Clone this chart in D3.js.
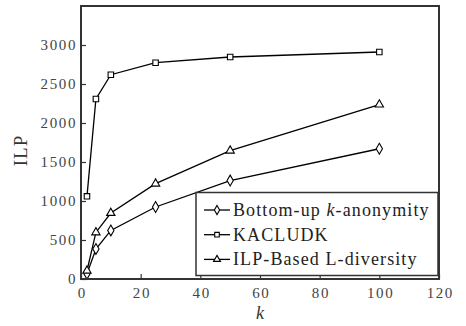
<!DOCTYPE html>
<html><head><meta charset="utf-8">
<script src="https://cdn.jsdelivr.net/npm/d3@7"></script>
<style>body{margin:0;background:#fff}svg{display:block}</style>
</head><body>
<script>
const kValues = [2, 5, 10, 25, 50, 100];
const bottomUp = [68, 385, 623, 923, 1262, 1670];
const kacludk = [1060, 2308, 2619, 2773, 2846, 2910];
const ilpBased = [106, 597, 846, 1222, 1645, 2236];
const seriesNames = ["Bottom-up k-anonymity", "KACLUDK", "ILP-Based L-diversity"];
const xTicks = [0, 20, 40, 60, 80, 100, 120];
const yTicks = [0, 500, 1000, 1500, 2000, 2500, 3000];

const W = 466, H = 326;
const m = {l: 81, r: 27, t: 6, b: 47};
const svg = d3.select("body").append("svg").attr("width", W).attr("height", H);
const x = d3.scaleLinear().domain([0, 120]).range([m.l, W - m.r]);
const y = d3.scaleLinear().domain([0, 3500]).range([H - m.b, m.t]);
const font = "'Liberation Serif','DejaVu Serif',serif";
const axCol = "#333";

const series = [
  {name: seriesNames[0], vals: bottomUp, sym: d3.symbolDiamond, size: 34},
  {name: seriesNames[1], vals: kacludk, sym: d3.symbolSquare, size: 30},
  {name: seriesNames[2], vals: ilpBased, sym: d3.symbolTriangle, size: 30}
];
const line = d3.line().x(d => x(d[0])).y(d => y(d[1]));
series.forEach(s => {
  const pts = kValues.map((k, i) => [k, s.vals[i]]);
  svg.append("path").attr("d", line(pts)).attr("fill", "none")
    .attr("stroke", "#000").attr("stroke-width", 1.3);
  svg.selectAll(null).data(pts).enter().append("path")
    .attr("d", d3.symbol().type(s.sym).size(s.size))
    .attr("transform", d => `translate(${x(d[0])},${y(d[1])})`)
    .attr("fill", "#fff").attr("stroke", "#000").attr("stroke-width", 1.1);
});

const xAxis = svg.append("g").attr("transform", `translate(0,${H - m.b})`)
  .call(d3.axisBottom(x).tickValues(xTicks).tickFormat(d3.format("d")).tickSize(-5).tickPadding(8));
const yAxis = svg.append("g").attr("transform", `translate(${m.l},0)`)
  .call(d3.axisLeft(y).tickValues(yTicks).tickFormat(d3.format("d")).tickSize(-5).tickPadding(4));
[xAxis, yAxis].forEach(g => {
  g.select(".domain").remove();
  g.selectAll("line").attr("stroke", axCol).attr("stroke-width", 1.2);
  g.selectAll("text").attr("font-family", font).attr("font-size", 15)
    .attr("fill", "#444").attr("letter-spacing", 1.6);
});
xAxis.selectAll("text").attr("dy", "0.71em").attr("dx", 0.8);

svg.append("rect").attr("x", m.l).attr("y", m.t)
  .attr("width", W - m.r - m.l).attr("height", H - m.b - m.t)
  .attr("fill", "none").attr("stroke", axCol).attr("stroke-width", 2);

svg.append("text").attr("transform", `translate(27,${(m.t + H - m.b) / 2 + 8}) rotate(-90)`)
  .attr("text-anchor", "middle").attr("font-family", font).attr("font-size", 19)
  .attr("fill", "#333").attr("letter-spacing", 1).text("ILP");
svg.append("text").attr("x", x(60)).attr("y", 319).attr("text-anchor", "middle")
  .attr("font-family", font).attr("font-size", 18).attr("font-style", "italic")
  .attr("fill", "#333").text("k");

const lg = svg.append("g");
lg.append("rect").attr("x", 196).attr("y", 192.5).attr("width", 242).attr("height", 83)
  .attr("fill", "#fff").attr("stroke", axCol).attr("stroke-width", 1.5);
series.forEach((s, i) => {
  const yy = 210 + i * 24.7;
  lg.append("line").attr("x1", 204).attr("x2", 230).attr("y1", yy).attr("y2", yy)
    .attr("stroke", "#000").attr("stroke-width", 1.3);
  lg.append("path").attr("d", d3.symbol().type(s.sym).size(s.size * 0.7))
    .attr("transform", `translate(217,${yy})`)
    .attr("fill", "#fff").attr("stroke", "#000").attr("stroke-width", 1.1);
  const t = lg.append("text").attr("x", 233).attr("y", yy + 6)
    .attr("font-family", font).attr("font-size", 18).attr("fill", "#222")
    .attr("letter-spacing", 1.1);
  if (i === 0) {
    t.append("tspan").text("Bottom-up ");
    t.append("tspan").attr("font-style", "italic").text("k");
    t.append("tspan").text("-anonymity");
  } else t.text(s.name);
});
</script>
</body></html>
